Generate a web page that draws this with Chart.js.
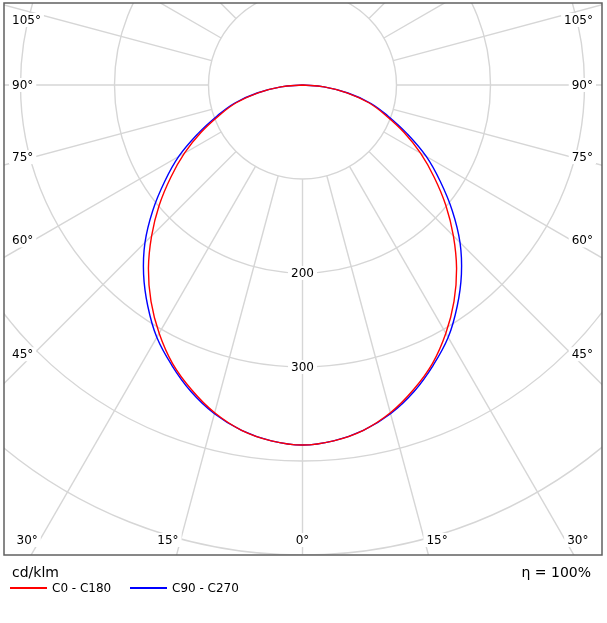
<!DOCTYPE html>
<html>
<head>
<meta charset="utf-8">
<script src="https://cdn.jsdelivr.net/npm/chart.js@4.4.0/dist/chart.umd.min.js"></script>
<style>
  html, body { margin: 0; padding: 0; background: #fff; }
  #wrap { width: 607px; height: 623px; }
</style>
</head>
<body>
<div id="wrap"><canvas id="polar" width="607" height="623"></canvas></div>
<script>
// gamma angles in degrees (0 = straight down), curves are symmetric left/right
const angles = [0, 5, 10, 15, 20, 25, 30, 35, 40, 45, 50, 55, 60, 65, 70, 75, 80, 85, 90];
const c0c180 = [383, 380, 373, 361, 345, 327, 305, 281, 255, 227, 199, 171, 145, 119, 94, 73, 48, 23, 0];
const c90c270 = [383, 380, 373, 362, 347, 329, 310, 287, 263, 237, 208, 179, 152, 123, 97, 75, 49, 23, 0];

const seriesLabels = ['C0 - C180', 'C90 - C270'];
const seriesColors = ['#ff0000', '#0000ff'];

const rings = [100, 200, 300, 400, 500, 600, 700];
const ringLabels = [200, 300];
const angleTicks = [0, 15, 30, 45, 60, 75, 90, 105];
const unitText = 'cd/klm';
const efficiencyText = '\u03b7 = 100%';

Chart.defaults.font.family = 'DejaVu Sans';

function toPoints(values) {
    const pts = [];
    // left half (C180 / C270) from 90 down to 0, then right half back up
    for (let i = angles.length - 1; i > 0; i--) {
        const a = -angles[i] * Math.PI / 180;
        pts.push({ x: values[i] * Math.sin(a), y: -values[i] * Math.cos(a) });
    }
    for (let i = 0; i < angles.length; i++) {
        const a = angles[i] * Math.PI / 180;
        pts.push({ x: values[i] * Math.sin(a), y: -values[i] * Math.cos(a) });
    }
    return pts;
}

const polarGrid = {
    id: 'polarGrid',
    beforeDatasetsDraw(chart) {
        const { ctx, chartArea: area, scales } = chart;
        const sx = scales.x, sy = scales.y;
        const cx = sx.getPixelForValue(0);
        const cy = sy.getPixelForValue(0);
        const rad = v => sx.getPixelForValue(v) - cx;

        ctx.save();
        ctx.beginPath();
        ctx.rect(area.left, area.top, area.right - area.left, area.bottom - area.top);
        ctx.clip();

        ctx.strokeStyle = '#d6d6d6';
        ctx.lineWidth = 1.4;
        rings.forEach(r => {
            ctx.beginPath();
            ctx.arc(cx, cy, rad(r), 0, Math.PI * 2);
            ctx.stroke();
        });
        for (let d = -180; d < 180; d += 15) {
            const a = d * Math.PI / 180;
            const r0 = rad(rings[0]), r1 = rad(1000);
            ctx.beginPath();
            ctx.moveTo(cx + r0 * Math.sin(a), cy + r0 * Math.cos(a));
            ctx.lineTo(cx + r1 * Math.sin(a), cy + r1 * Math.cos(a));
            ctx.stroke();
        }

        ctx.font = '12px "DejaVu Sans"';
        ctx.textBaseline = 'middle';
        ctx.textAlign = 'center';
        const h = 12;
        const drawLabel = (text, x, y) => {
            const w = ctx.measureText(text).width;
            ctx.fillStyle = '#fff';
            ctx.fillRect(x - w / 2 - 3, y - h / 2 - 1, w + 6, h + 2);
            ctx.fillStyle = '#000';
            ctx.fillText(text, x, y + 0.5);
        };

        ringLabels.forEach(v => drawLabel(String(v), cx, cy + rad(v)));

        const yb = area.bottom - 15;
        angleTicks.forEach(deg => {
            const a = deg * Math.PI / 180;
            const text = deg + '\u00b0';
            const w = ctx.measureText(text).width;
            const sides = deg === 0 ? [1] : [-1, 1];
            sides.forEach(s => {
                const sin = Math.sin(a) * s, cos = Math.cos(a);
                if (cos > 0) {
                    const t = (yb - cy) / cos;
                    const xb = cx + t * sin;
                    if (xb > area.left + 20 && xb < area.right - 20) {
                        const x = deg === 0 ? xb : xb + Math.sign(s) * (w / 2 + 2);
                        drawLabel(text, x, yb);
                        return;
                    }
                }
                const inner = s < 0 ? area.left + 8 + w : area.right - 9 - w;
                const t = (inner - cx) / sin;
                let y = cy + t * cos;
                y = Math.max(y, area.top + 17);
                const xc = s < 0 ? inner - w / 2 : inner + w / 2;
                drawLabel(text, xc, y);
            });
        });
        ctx.restore();
    },
    afterDatasetsDraw(chart) {
        const { ctx, chartArea: area } = chart;
        ctx.save();
        ctx.strokeStyle = '#606060';
        ctx.lineWidth = 1.5;
        ctx.strokeRect(area.left, area.top, area.right - area.left, area.bottom - area.top);

        ctx.fillStyle = '#000';
        ctx.textBaseline = 'middle';
        ctx.font = '14px "DejaVu Sans"';
        ctx.textAlign = 'left';
        ctx.fillText(unitText, area.left + 8, area.bottom + 18);
        ctx.textAlign = 'right';
        ctx.fillText(efficiencyText, area.right - 11, area.bottom + 18);

        ctx.font = '12px "DejaVu Sans"';
        ctx.textAlign = 'left';
        let x = area.left + 6;
        const ly = area.bottom + 33;
        chart.data.datasets.forEach(ds => {
            ctx.strokeStyle = ds.borderColor;
            ctx.lineWidth = 2;
            ctx.beginPath();
            ctx.moveTo(x, ly);
            ctx.lineTo(x + 37, ly);
            ctx.stroke();
            ctx.fillStyle = '#000';
            ctx.fillText(ds.label, x + 42, ly + 0.5);
            x += 120;
        });
        ctx.restore();
    }
};

const K = 0.94; // pixels per cd/klm

new Chart(document.getElementById('polar'), {
    type: 'scatter',
    data: {
        datasets: [
            {
                label: seriesLabels[0],
                data: toPoints(c0c180),
                borderColor: seriesColors[0],
                borderWidth: 1.4,
                showLine: true,
                pointRadius: 0,
                tension: 0.4
            },
            {
                label: seriesLabels[1],
                data: toPoints(c90c270),
                borderColor: seriesColors[1],
                borderWidth: 1.4,
                showLine: true,
                pointRadius: 0,
                tension: 0.4
            }
        ]
    },
    options: {
        responsive: false,
        animation: false,
        layout: { padding: { left: 4, top: 3, right: 5, bottom: 68 } },
        scales: {
            x: { type: 'linear', display: false, min: -298.5 / K, max: 299.5 / K },
            y: { type: 'linear', display: false, min: -470 / K, max: 82 / K }
        },
        plugins: {
            legend: { display: false },
            tooltip: { enabled: false }
        }
    },
    plugins: [polarGrid]
});
</script>
</body>
</html>
